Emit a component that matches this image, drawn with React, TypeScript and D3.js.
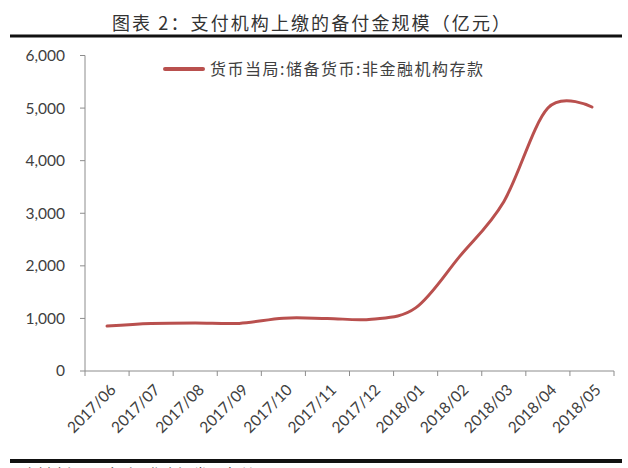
import React from "react";
import * as d3 from "d3";

const categories = ["2017/06","2017/07","2017/08","2017/09","2017/10","2017/11","2017/12","2018/01","2018/02","2018/03","2018/04","2018/05"];
const values = [855, 905, 915, 905, 1005, 1000, 985, 1200, 2180, 3220, 5000, 5020];
const yTicks = [0, 1000, 2000, 3000, 4000, 5000, 6000];
const title = "图表 2：支付机构上缴的备付金规模（亿元）";
const legendLabel = "货币当局:储备货币:非金融机构存款";
const sourceText = "资料来源：Wind，华泰证券研究所";

const W = 628, H = 468;
const left = 85, right = 614, top = 55.5, bottom = 371;
const lineColor = "#B9504E";
const axisColor = "#8c8c8c";
const textColor = "#404040";
const tickFont = "Lato, 'Open Sans', sans-serif";

export default function App() {
  const x = d3.scaleBand<string>().domain(categories).range([left, right]);
  const y = d3.scaleLinear().domain([0, 6000]).range([bottom, top]);
  const line = d3.line<number>()
    .x((_, i) => (x(categories[i]) as number) + x.bandwidth() / 2)
    .y((d) => y(d))
    .curve(d3.curveCardinal.tension(0));
  const fmt = d3.format(",");
  const tickXs = categories.map((c) => x(c) as number).concat([right]);
  return (
    <svg width={W} height={H} style={{ position: "fixed", left: 0, top: 0, background: "#fff" }}>
      <rect x={0} y={0} width={W} height={H} fill="#fff" />
      <text x={112} y={30} fontSize={18} fontFamily="'Noto Sans CJK SC', sans-serif" fill="#333" textLength={398} lengthAdjust="spacing">{title}</text>
      <line x1={10} x2={622} y1={36} y2={36} stroke="#111" strokeWidth={3} />
      {/* y axis */}
      <line x1={left} x2={left} y1={top} y2={bottom} stroke={axisColor} strokeWidth={1} />
      {yTicks.map((t) => (
        <g key={t}>
          <line x1={left - 5} x2={left} y1={y(t)} y2={y(t)} stroke={axisColor} />
          <text x={65} y={y(t)} dy="0.35em" textAnchor="end" fontSize={15.5} fontFamily={tickFont} fill={textColor}>{fmt(t)}</text>
        </g>
      ))}
      {/* x axis */}
      <line x1={left} x2={right} y1={bottom} y2={bottom} stroke={axisColor} />
      {tickXs.map((tx, i) => (
        <line key={i} x1={tx} x2={tx} y1={bottom} y2={bottom + 5} stroke={axisColor} />
      ))}
      {categories.map((c) => {
        const cx = (x(c) as number) + x.bandwidth() / 2;
        return (
          <text key={c} transform={`translate(${cx + 6},${bottom + 16}) rotate(-45)`} textAnchor="end" dy="0.35em" fontSize={15.5} fontFamily={tickFont} fill={textColor}>{c}</text>
        );
      })}
      <path d={line(values) || ""} fill="none" stroke={lineColor} strokeWidth={3} strokeLinecap="round" />
      {/* legend */}
      <line x1={165} x2={203} y1={69} y2={69} stroke={lineColor} strokeWidth={4} strokeLinecap="round" />
      <text x={210} y={69} dy="0.35em" fontSize={16} fontFamily="'Noto Sans CJK SC', sans-serif" fill={textColor} textLength={273} lengthAdjust="spacing">{legendLabel}</text>
      <line x1={10} x2={622} y1={461} y2={461} stroke="#111" strokeWidth={4} />
      <text x={22} y={480} fontSize={15} fontFamily="'Noto Sans CJK SC', sans-serif" fill="#333">{sourceText}</text>
    </svg>
  );
}
